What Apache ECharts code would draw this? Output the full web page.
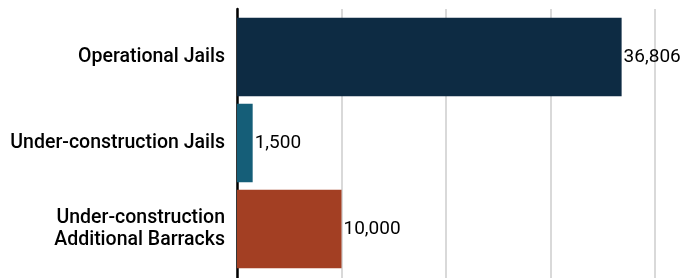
<!DOCTYPE html>
<html>
<head>
	<meta charset="utf-8">
	<title>Jails</title>
	<script src="https://cdn.jsdelivr.net/npm/echarts@6/dist/echarts.min.js"></script>
	<style>
		html, body { margin: 0; padding: 0; background: #fff; }
		#main { width: 685px; height: 278px; }
	</style>
</head>
<body>
	<div id="main"></div>
	<script type="text/javascript">
		// data
		var categories = ['Operational Jails', 'Under-construction Jails', 'Under-construction\nAdditional Barracks'];
		var values = [36806, 1500, 10000];
		var barColors = ['#0d2b43', '#155e78', '#a33f23'];
		var xTicks = [0, 10000, 20000, 30000, 40000];

		var myChart = echarts.init(document.getElementById('main'));

		var option = {
			animation: false,
			textStyle: { fontFamily: 'Roboto' },
			grid: [
				// bars
				{ left: 237, right: 30, top: 14, bottom: 6 },
				// background frame: gridlines + axis line over full height
				{ left: 237, right: 30, top: 9, bottom: 0 }
			],
			xAxis: [
				{
					gridIndex: 0, type: 'value', min: xTicks[0], max: xTicks[xTicks.length - 1], interval: 10000,
					axisLine: { show: false }, axisTick: { show: false }, axisLabel: { show: false },
					splitLine: { show: false }
				},
				{
					gridIndex: 1, type: 'value', min: xTicks[0], max: xTicks[xTicks.length - 1], interval: 10000,
					axisLine: { show: false }, axisTick: { show: false }, axisLabel: { show: false },
					splitLine: { show: true, lineStyle: { color: '#cccccc', width: 1.5 } }
				}
			],
			yAxis: [
				{
					gridIndex: 0, type: 'category', data: categories, inverse: true,
					axisLine: { show: false }, axisTick: { show: false },
					axisLabel: { color: '#000', fontSize: 19.5, fontWeight: 500, margin: 12, lineHeight: 22, align: 'right' }
				},
				{
					gridIndex: 1, type: 'value', min: 0, max: 1,
					axisLine: { show: true, lineStyle: { color: '#000', width: 2.5 } },
					axisTick: { show: false }, axisLabel: { show: false }, splitLine: { show: false }
				}
			],
			series: [
				{
					type: 'bar',
					xAxisIndex: 0, yAxisIndex: 0,
					barCategoryGap: '9%',
					data: values.map(function (v, i) {
						return { value: v, itemStyle: { color: barColors[i] } };
					}),
					label: {
						show: true, position: 'right', distance: 2,
						color: '#000', fontSize: 19,
						formatter: function (p) { return p.value.toLocaleString('en-US'); }
					}
				}
			]
		};

		myChart.setOption(option);
	</script>
</body>
</html>
